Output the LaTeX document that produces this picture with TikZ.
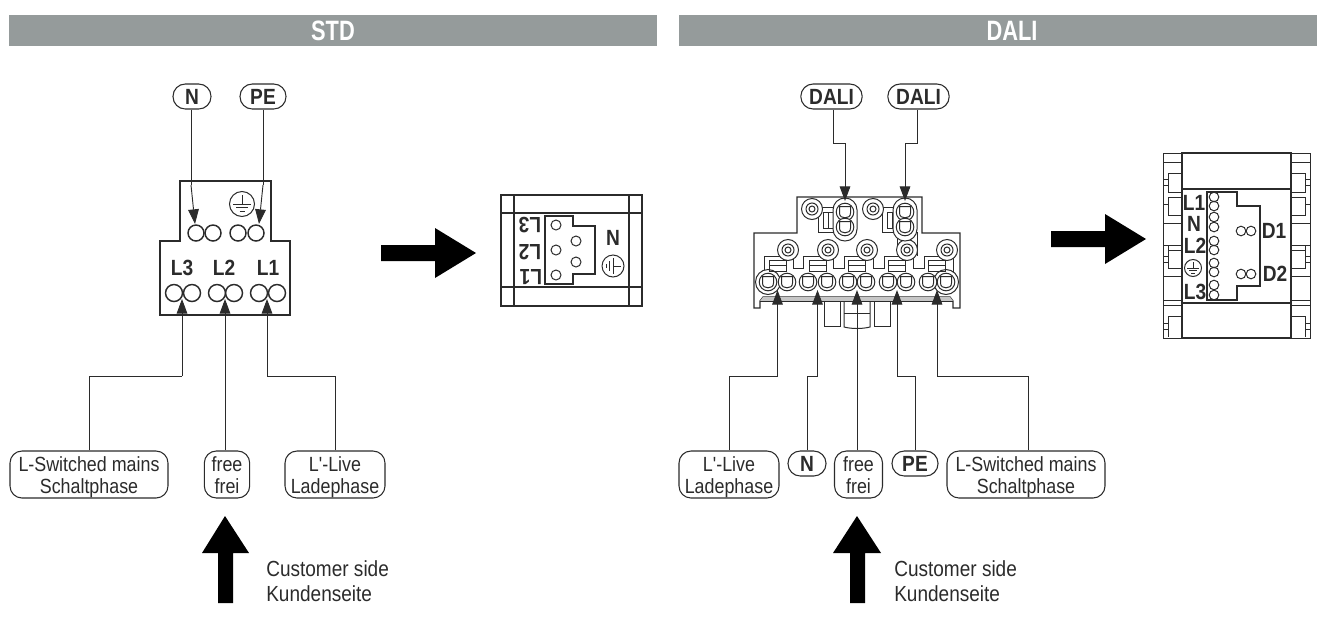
\documentclass[tikz,border=0pt]{standalone}
\usepackage{fontspec}
\setmainfont[FakeStretch=0.87]{Liberation Sans}
\newfontfamily\hdrf[FakeStretch=0.78]{Liberation Sans}
\newfontfamily\rawf[FakeStretch=0.87,Ligatures=TeXOff]{Liberation Sans}
\usetikzlibrary{arrows.meta}
\definecolor{barg}{HTML}{959B9B}
\definecolor{ink}{HTML}{2B2B2B}
\newcommand{\upl}{\rule{0pt}{15pt}}
\newcommand{\dnl}{\rule[-3.5pt]{0pt}{3.5pt}}
\tikzset{
  wire/.style={draw=ink,line width=0.7pt},
  awire/.style={wire,-{Triangle[length=11pt,width=8pt,fill=ink]}},
  body/.style={draw=ink,line width=1.1pt},
  thin/.style={draw=ink,line width=0.75pt},
  bar/.style={fill=barg,draw=none,inner sep=0pt},
  hdr/.style={text=white,font=\hdrf\bfseries\fontsize{21}{21}\selectfont,inner sep=0pt},
  lab/.style={text=ink,font=\fontsize{15.4}{16.5}\selectfont,align=center,inner sep=0pt},
  blab/.style={text=ink,font=\bfseries\fontsize{16.5}{17}\selectfont,inner sep=0pt},
  pill/.style={draw=ink,line width=0.8pt,rounded corners=#1,inner sep=0pt,lab,fill=white},
  pill/.default=9pt,
  tag/.style={pill=9.2pt,minimum height=18.75pt,font=\bfseries\fontsize{16.5}{17}\selectfont},
  big/.style={fill=black,draw=none},
  gnd/.pic={
    \draw[thin] (0,0) circle (10);
    \draw[thin] (0,-7) -- (0,0);
    \draw[thin] (-7,0) -- (7,0);
    \draw[thin] (-4.5,3) -- (4.5,3);
    \draw[thin] (-2,6) -- (2,6);
  },
  screw/.pic={
    \draw[thin,fill=white] (0,0) circle (10.5);
    \draw[thin] (0,0) circle (6);
    \draw[thin] (0,0) circle (3);
  },
  cell/.pic={
    \draw[thin,fill=white] (0,0) circle (8.8);
    \draw[thin] (-5.5,-5.5) -- (5.5,-5.5) -- (5.5,1) .. controls (5.5,4.5) and (3,5.8) .. (0,5.8) .. controls (-3,5.8) and (-5.5,4.5) .. (-5.5,1) -- cycle;
  },
  flap/.pic={
    \draw[thin] (-8.5,-22) rectangle (8.5,-11);
    \draw[thin] (-8.5,-17) -- (8.5,-17);
  }
}
\begin{document}
\begin{tikzpicture}[x=0.75pt,y=-0.75pt]
\useasboundingbox (0,0) rectangle (1326,618);
% headers
\fill[bar] (9,15) rectangle (657,46);
\fill[bar] (679,15) rectangle (1317,46);
\node[hdr] (hstd) at (333,31) {STD};
\node[hdr] (hdali) at (1012,31) {DALI};

% ---------- STD terminal block
\draw[body] (180,241) -- (180,181) -- (271,181) -- (271,241) -- (290,241) -- (290,315) -- (160,315) -- (160,241) -- cycle;
\foreach \x in {196,213,238,256} \draw[body] (\x,233) circle (8);
\foreach \x in {174,192,217,234,259,277} \draw[body] (\x,293) circle (8.5);
\pic[scale=1.25] at (242,204) {gnd};
\node[blab] (sl3) at (182,268) {L3};
\node[blab] (sl2) at (224,268) {L2};
\node[blab] (sl1) at (268,268) {L1};
\coordinate (tn) at (195,224);
\coordinate (tpe) at (259,224);
\coordinate (ta) at (182,299);
\coordinate (tb) at (225,299);
\coordinate (tc) at (267,299);
\coordinate (bn) at (191,185);
\coordinate (bpe) at (263,185);
\coordinate (ba) at (182,376);
\coordinate (bc) at (267,376);

% pills STD
\node[tag,minimum width=28.5pt] (pn) at (192,96.5) {N};
\node[tag,minimum width=34.5pt] (ppe) at (263,96.5) {PE};
\node[pill,minimum width=118.5pt,minimum height=35.25pt] (pls) at (89,474.5) {\upl L-Switched mains\\Schaltphase\dnl};
\node[pill,minimum width=34pt,minimum height=35.25pt] (pfr) at (227,474.5) {\upl free\\frei\dnl};
\node[pill,minimum width=75pt,minimum height=35.25pt] (pll) at (335,474.5) {\upl{\rawf L'}-Live\\Ladephase\dnl};
\draw[wire] (pn.south -| bn) -- (bn);
\draw[awire] (bn) -- (tn);
\draw[wire] (ppe.south -| bpe) -- (bpe);
\draw[awire] (bpe) -- (tpe);
\draw[wire] (pls.north) |- (ba);
\draw[awire] (ba) -- (ta);
\draw[awire] (pfr.north -| tb) -- (tb);
\draw[wire] (pll.north) |- (bc);
\draw[awire] (bc) -- (tc);

% big arrows STD
\fill[big] (225,516) -- (249,553) -- (233,553) -- (233,603) -- (218,603) -- (218,553) -- (202,553) -- cycle;
\node[lab,align=left,anchor=west,font=\fontsize{16.4}{18.75}\selectfont] (cs1) at (266,581.5) {Customer side\\Kundenseite};
\fill[big] (381,245) -- (435,245) -- (435,228) -- (476,253) -- (435,278) -- (435,261) -- (381,261) -- cycle;

% STD right block
\draw[body] (501,195) rectangle (642,306);
\draw[body] (514,195) -- (514,306) (629,195) -- (629,306) (501,213) -- (642,213) (501,287) -- (642,287);
\draw[body,line width=.9pt] (545,216) -- (573,216) -- (573,226) -- (595,226) -- (595,274) -- (573,274) -- (573,284) -- (545,284) -- cycle;
\foreach \x/\y in {556/225,556/250,556/275,576/241,576/262} \draw[thin] (\x,\y) circle (5);
\node[blab,rotate=180] (r3) at (530,225) {L3};
\node[blab,rotate=180] (r2) at (530,252) {L2};
\node[blab,rotate=180] (r1) at (531,277) {L1};
\node[blab] (rn) at (613,238) {N};
\pic[scale=1.1,rotate=-90] at (613,266) {gnd};

% ---------- DALI terminal block
\draw[body,line width=.9pt] (754,308) -- (754,233) -- (797,233) -- (797,197) -- (922,197) -- (922,233) -- (960,233) -- (960,308) -- (953,308) -- (953,301) -- (950,297) -- (763,297) -- (760,301) -- (760,308) -- cycle;
\fill[gray!45] (760,301) -- (763,297) -- (950,297) -- (953,301) -- cycle;
\draw[thin] (760,301) -- (953,301);
% lower housing
\draw[thin] (824,301) -- (824,326) -- (840,326) -- (840,301);
\draw[thin] (874,301) -- (874,326) -- (890,326) -- (890,301);
\draw[thin] (844,301) -- (844,327) .. controls (852,329) and (862,329) .. (870,327) -- (870,301);
\draw[thin] (844,313) -- (870,313);
% walls
\draw[thin] (764,272) -- (764,256) -- (793,256) -- (793,268) -- (803,268) -- (803,256) -- (833,256) -- (833,268) -- (844,268) -- (844,256) -- (873,256) -- (873,268) -- (884,268) -- (884,256) -- (913,256) -- (913,268) -- (924,268) -- (924,256) -- (953,256) -- (953,272);
% upper flaps
\draw[thin] (818,207) rectangle (836,232);
\draw[thin] (823,212) rectangle (836,228);
\draw[thin] (828,212) -- (828,228);
\draw[thin] (882,207) rectangle (897,232);
\draw[thin] (887,212) rectangle (897,228);
\draw[thin] (892,212) -- (892,228);
\draw[thin] (897,232) -- (897,252) (917,232) -- (917,256);
% screws
\foreach \x/\y in {812/209,873/209,788/250,828/250,867/250,907/250,947/250} \pic at (\x,\y) {screw};
% upper terminals
\draw[thin,fill=white,rounded corners=8.9pt] (833,198) rectangle (857,241);
\draw[thin,fill=white,rounded corners=8.9pt] (893,198) rectangle (917,241);
\foreach \x/\y in {845/212,845/227,905/212,905/227} \pic at (\x,\y) {cell};
% lower terminals
\draw[thin,fill=white] (768,282) circle (12.5);
\draw[thin,fill=white] (946,282) circle (12.5);
\foreach \x in {768,787,808,827,848,866,888,906,928,946} \pic at (\x,282) {cell};
\foreach \x in {777.5,818,857,897,937} \pic at (\x,282) {flap};
% DALI pills and wires
\coordinate (d1) at (845,201);
\coordinate (d2) at (905,201);
\coordinate (g1) at (845,143);
\coordinate (g2) at (905,143);
\node[tag,minimum width=46pt] (pd1) at (831.5,96.5) {DALI};
\node[tag,minimum width=46pt] (pd2) at (918.5,96.5) {DALI};
\draw[wire] (pd1.south -| 833,0) |- (g1);
\draw[awire] (g1) -- (d1);
\draw[wire] (pd2.south -| 917,0) |- (g2);
\draw[awire] (g2) -- (d2);
\coordinate (u1) at (777.5,290);
\coordinate (u2) at (817.5,290);
\coordinate (u3) at (857,290);
\coordinate (u4) at (897,290);
\coordinate (u5) at (937,290);
\coordinate (k1) at (777.5,376);
\coordinate (k2) at (817.5,376);
\coordinate (k4) at (897,376);
\coordinate (k5) at (937,376);
\node[pill,minimum width=75pt,minimum height=35.25pt] (qll) at (729,474.5) {\upl{\rawf L'}-Live\\Ladephase\dnl};
\node[tag,minimum width=28.5pt] (qn) at (807,463.5) {N};
\node[pill,minimum width=36pt,minimum height=35.25pt] (qfr) at (858.5,474.5) {\upl free\\frei\dnl};
\node[tag,minimum width=34.5pt] (qpe) at (915,463.5) {PE};
\node[pill,minimum width=118.5pt,minimum height=35.25pt] (qls) at (1026,474.5) {\upl L-Switched mains\\Schaltphase\dnl};
\draw[wire] (qll.north) |- (k1);
\draw[awire] (k1) -- (u1);
\draw[wire] (qn.north) |- (k2);
\draw[awire] (k2) -- (u2);
\draw[awire] (qfr.north -| u3) -- (u3);
\draw[wire] (qpe.north) |- (k4);
\draw[awire] (k4) -- (u4);
\draw[wire] (qls.north -| 1028,0) |- (k5);
\draw[awire] (k5) -- (u5);

% big arrows DALI
\fill[big] (857,516) -- (881,553) -- (865,553) -- (865,603) -- (850,603) -- (850,553) -- (833,553) -- cycle;
\node[lab,align=left,anchor=west,font=\fontsize{16.4}{18.75}\selectfont] (cs2) at (894,581.5) {Customer side\\Kundenseite};
\fill[big] (1051,231) -- (1105,231) -- (1105,214) -- (1146,239) -- (1105,264) -- (1105,247) -- (1051,247) -- cycle;

% DALI right block
\draw[body] (1182,153) rectangle (1291,338);
\draw[body] (1182,189) -- (1291,189) (1182,303) -- (1291,303);
\foreach \a/\b/\c/\dd in {1182/1168/1163/1,1291/1305/1310/-1}{
  \draw[thin] (\a,153) -- (\c,153) -- (\c,338) -- (\a,338);
  \draw[thin] (\a,162) -- (\c,162);
  \draw[thin] (\a,173) -- (\b,173) -- (\b,192) -- (\a,192);
  \draw[thin] (\a,197) -- (\b,197) -- (\b,215) -- (\a,215);
  \draw[thin] (\a,223) -- (\c,223);
  \draw[thin] (\a,245) -- (\c,245);
  \draw[thin] (\a,250) -- (\b,250) -- (\b,268) -- (\a,268);
  \draw[thin] (\b,245) -- (\b,250);
  \draw[thin] (\a,276) -- (\c,276);
  \draw[thin] (\a,300) -- (\c,300);
  \draw[thin] (\a,305) -- (\c,305);
  \draw[thin] (\a,316) -- (\b,316) -- (\b,337);
  \foreach \yy in {179,185,204,256,262,323,329} \draw[thin] (\b,\yy) -- (\c,\yy);
}
\draw[thin,line width=.9pt] (1207,192) -- (1237,192) -- (1237,206) -- (1260,206) -- (1260,286) -- (1237,286) -- (1237,300) -- (1207,300) -- cycle;
\foreach \y in {197,206,217,227,241,250,263,272,285,295} \draw[thin] (1214,\y) circle (4.8);
\foreach \y in {231,274} {\draw[thin] (1241,\y) circle (4.8); \draw[thin] (1251,\y) circle (4.8);}
\node[blab] (dl1) at (1194,203) {L1};
\node[blab] (dn) at (1194,224) {N};
\node[blab] (dl2) at (1195,246) {L2};
\pic[scale=.85] at (1193,268) {gnd};
\node[blab] (dl3) at (1195,292) {L3};
\node[blab] (dd1) at (1274,231) {D1};
\node[blab] (dd2) at (1275,274) {D2};
\end{tikzpicture}
\end{document}
